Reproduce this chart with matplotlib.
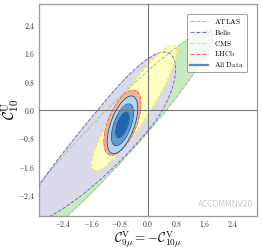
import matplotlib
matplotlib.use('Agg')
import matplotlib.pyplot as plt
import numpy as np
from matplotlib.lines import Line2D

plt.rcParams['mathtext.fontset'] = 'cm'
plt.rcParams['font.family'] = 'serif'

# Fitted 1-sigma regions: centre, tilt, semi-axes
names = ['ATLAS', 'Belle', 'CMS', 'LHCb', 'All Data']
cen_x = [-1.34, -0.55, -0.39, -0.72, -0.72]
cen_y = [-1.13, -0.10, 0.055, -0.36, -0.42]
angle = [47, 50, 57, 68, 70]
major_up = [4.60, 2.05, 2.10, 0.98, 0.38]
major_dn = [4.60, 4.20, 2.10, 0.98, 0.38]
minor = [0.66, 0.73, 0.42, 0.40, 0.147]
bend_up = [0.0, 0.04, 0.0, 0.0, 0.0]
bend_dn = [0.0, 0.014, 0.0, 0.0, 0.0]

sigma_levels = [2.30, 6.18, 11.83]
xticks = [-2.4, -1.6, -0.8, 0.0, 0.8, 1.6, 2.4]
yticks = [-2.4, -1.6, -0.8, 0.0, 0.8, 1.6, 2.4]

fill_colors = ['#c9e9c2', '#dadaeb', '#ffffc2', '#fcae91']
edge_colors = ['#8fd18b', '#7a6fb8', '#f2e640', '#f4745a']
blues = ['#2166ac', '#5a9bd2', '#b3d3ee']


def chi2(X, Y, i):
    t = np.radians(angle[i])
    dx, dy = X - cen_x[i], Y - cen_y[i]
    u = dx * np.cos(t) + dy * np.sin(t)
    v = -dx * np.sin(t) + dy * np.cos(t)
    v = v - np.where(u > 0, bend_up[i], bend_dn[i]) * u ** 2
    a = np.where(u > 0, major_up[i], major_dn[i])
    return sigma_levels[0] * ((u / a) ** 2 + (v / minor[i]) ** 2)


g = np.linspace(-3.6, 3.6, 700)
X, Y = np.meshgrid(g, g)

fig = plt.figure(figsize=(2.62, 2.5), dpi=100)
ax = fig.add_axes([0.149, 0.136, 0.832, 0.848])

for i in range(4):
    Z = chi2(X, Y, i)
    ax.contourf(X, Y, Z, levels=[0, sigma_levels[0]], colors=[fill_colors[i]], zorder=1 + i)
for i in range(4):
    Z = chi2(X, Y, i)
    ax.contour(X, Y, Z, levels=[sigma_levels[0]], colors=[edge_colors[i]],
               linestyles='--', linewidths=0.7, zorder=4.5)

Z = chi2(X, Y, 4)
ax.contourf(X, Y, Z, levels=[0] + sigma_levels, colors=blues, zorder=5)
ax.contour(X, Y, Z, levels=sigma_levels, colors='#1d4f8c', linewidths=0.6, zorder=6)

ax.axhline(0, color='#777777', lw=0.8, zorder=8)
ax.axvline(0, color='#777777', lw=0.8, zorder=8)

ax.set_xlim(-3.07, 3.07)
ax.set_ylim(-3.0, 3.0)
ax.set_xticks(xticks)
ax.set_xticklabels([f'${v:.1f}$' for v in xticks])
ax.set_yticks(yticks)
ax.set_yticklabels([f'${v:.1f}$' for v in yticks])
ax.tick_params(length=0, labelsize=5.5, pad=2.5, labelcolor='#333333')
for s in ax.spines.values():
    s.set_color('#999999')
    s.set_linewidth(0.9)

ax.set_xlabel(r'$\mathcal{C}_{9\mu}^{\rm V}=-\mathcal{C}_{10\mu}^{\rm V}$', fontsize=9.5, va='top')
ax.xaxis.set_label_coords(0.5, -0.062)
ax.set_ylabel(r'$\mathcal{C}_{10}^{\rm U}$', fontsize=11)
ax.yaxis.set_label_coords(-0.08, 0.5)

handles = [Line2D([], [], color=edge_colors[i], ls='--', lw=0.8) for i in range(4)]
handles.append(Line2D([], [], color='#5b8cc0', ls='-', lw=1.6))
labels = [r'$\rm ATLAS$', r'$\rm Belle$', r'$\rm CMS$', r'$\rm LHCb$', r'$\rm All\ Data$']
leg = ax.legend(handles, labels, loc='upper right', fontsize=5.4, handlelength=2.4,
                handletextpad=0.8, borderaxespad=1.3, labelspacing=0.25, framealpha=0.8)
leg.get_frame().set_edgecolor('#888888')
leg.get_frame().set_linewidth(0.7)
leg.set_zorder(10)

ax.text(0.985, 0.035, 'ACCDMMNV20', transform=ax.transAxes, ha='right', va='bottom',
        fontsize=5.5, color='#c8c8c8', family='DejaVu Sans', zorder=9)

fig.savefig('out.png', dpi=100)
